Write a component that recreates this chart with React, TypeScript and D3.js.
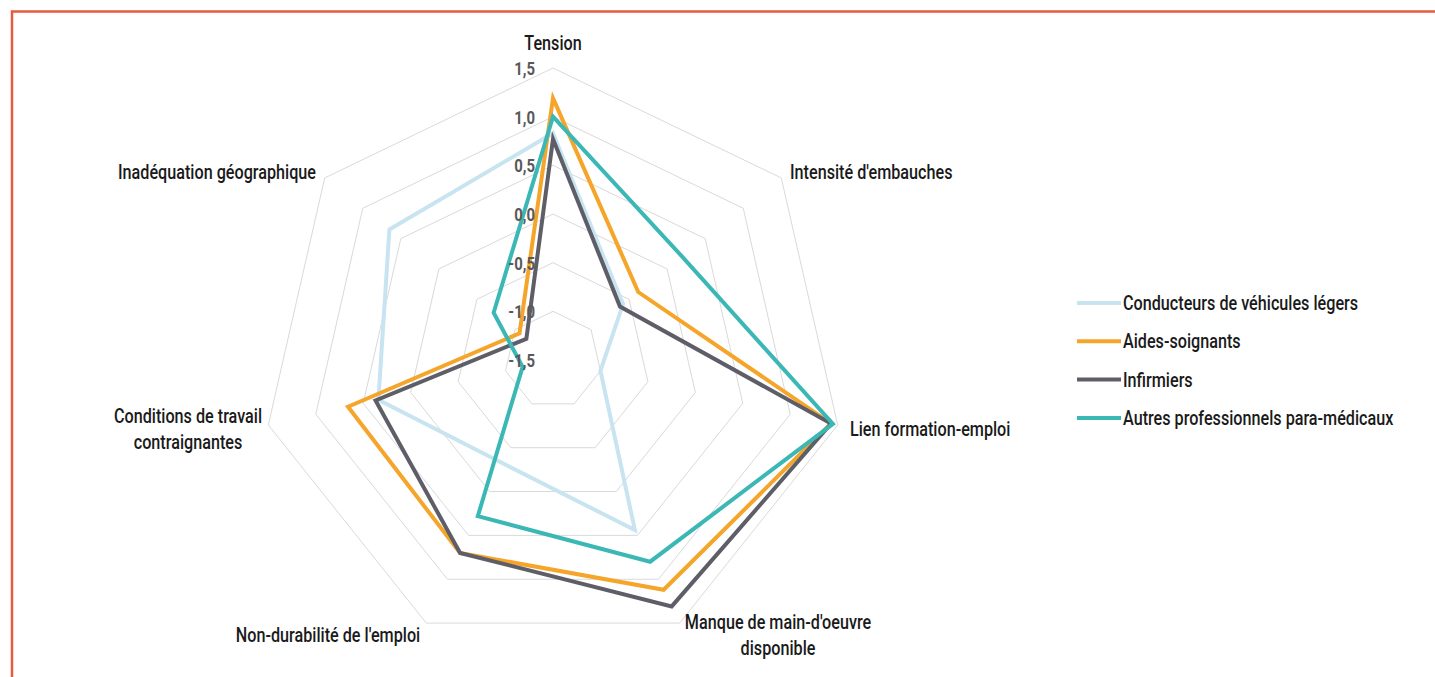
import React from "react";
import * as d3 from "d3";

const categories = [
  "Tension",
  "Intensité d'embauches",
  "Lien formation-emploi",
  "Manque de main-d'oeuvre disponible",
  "Non-durabilité de l'emploi",
  "Conditions de travail contraignantes",
  "Inadéquation géographique",
];
const categoryLines = [
  ["Tension"],
  ["Intensité d'embauches"],
  ["Lien formation-emploi"],
  ["Manque de main-d'oeuvre", "disponible"],
  ["Non-durabilité de l'emploi"],
  ["Conditions de travail", "contraignantes"],
  ["Inadéquation géographique"],
];

const seriesNames = [
  "Conducteurs de véhicules légers",
  "Aides-soignants",
  "Infirmiers",
  "Autres professionnels para-médicaux",
];
const conducteurs = [0.83, -0.58, -1.0, 0.44, -0.32, 0.34, 0.65];
const aidesSoignants = [1.19, -0.38, 1.43, 1.12, 0.7, 0.66, -1.06];
const infirmiers = [0.77, -0.62, 1.43, 1.31, 0.7, 0.37, -1.15];
const autres = [1.0, 0.2, 1.45, 0.8, 0.28, -1.18, -0.72];
const seriesValues = [conducteurs, aidesSoignants, infirmiers, autres];
const seriesColors = ["#c8e4f1", "#f5a52a", "#5e5e68", "#3bb7b6"];

const tickValues = [-1.5, -1.0, -0.5, 0.0, 0.5, 1.0, 1.5];
const tickLabels = ["-1,5", "-1,0", "-0,5", "0,0", "0,5", "1,0", "1,5"];

// layout
const W = 1435;
const H = 677;
const CX = 553;
const CY = 360;
const R = 292;
const SX = 0.83;
const FONT = "Roboto, 'Noto Sans', sans-serif";

const labelLayout = [
  { x: 553, y: 43, anchor: "middle" },
  { x: 790, y: 172, anchor: "start" },
  { x: 850, y: 429, anchor: "start" },
  { x: 778, y: 622, anchor: "middle" },
  { x: 328, y: 635, anchor: "middle" },
  { x: 188, y: 416, anchor: "middle" },
  { x: 316, y: 172, anchor: "end" },
];

function SText({ x, y, anchor = "start", size = 19.5, weight = 500, fill = "#1a1a1a", children }: any) {
  return (
    <text
      transform={`translate(${x},${y}) scale(${SX},1)`}
      textAnchor={anchor}
      dominantBaseline="central"
      fontFamily={FONT}
      fontSize={size}
      fontWeight={weight}
      fill={fill}
    >
      {children}
    </text>
  );
}

export default function App() {
  const n = categories.length;
  const r = d3.scaleLinear().domain([-1.5, 1.5]).range([0, R]);
  const angle = (i: number) => (i * 2 * Math.PI) / n;
  const radial = d3
    .lineRadial<number>()
    .angle((_, i) => angle(i))
    .radius((v) => r(v))
    .curve(d3.curveLinearClosed);

  const gridLevels = tickValues.filter((t) => t > -1.5);

  return (
    <div style={{ position: "absolute", left: 0, top: 0, width: W, height: H, background: "#fff" }}>
      <svg width={W} height={H} style={{ display: "block" }}>
        <rect x={0} y={0} width={W} height={H} fill="#fff" />
        <path d={`M12,${H} V11.5 H${W}`} fill="none" stroke="#ea5a3a" strokeWidth={2.5} />
        <g transform={`translate(${CX},${CY})`}>
          {gridLevels.map((t) => (
            <path
              key={t}
              d={radial(categories.map(() => t)) || ""}
              fill="none"
              stroke="#d9d9d9"
              strokeWidth={1}
            />
          ))}
          {seriesValues.map((vals, si) => (
            <path
              key={si}
              d={radial(vals) || ""}
              fill="none"
              stroke={seriesColors[si]}
              strokeWidth={4}
              strokeLinejoin="miter"
              strokeMiterlimit={4}
            />
          ))}
        </g>
        {tickValues.map((t, i) => (
          <SText key={t} x={CX - 18} y={CY - r(t) + 1} anchor="end" size={18} weight={700} fill="#595959">
            {tickLabels[i]}
          </SText>
        ))}
        {categoryLines.map((lines, i) =>
          lines.map((ln, j) => (
            <SText key={i + "-" + j} x={labelLayout[i].x} y={labelLayout[i].y + j * 25.5} anchor={labelLayout[i].anchor}>
              {ln}
            </SText>
          ))
        )}
        {seriesNames.map((name, i) => {
          const y = 303 + i * 38.3;
          return (
            <g key={name}>
              <line x1={1077} x2={1121} y1={y} y2={y} stroke={seriesColors[i]} strokeWidth={4} />
              <SText x={1123} y={y}>{name}</SText>
            </g>
          );
        })}
      </svg>
    </div>
  );
}
